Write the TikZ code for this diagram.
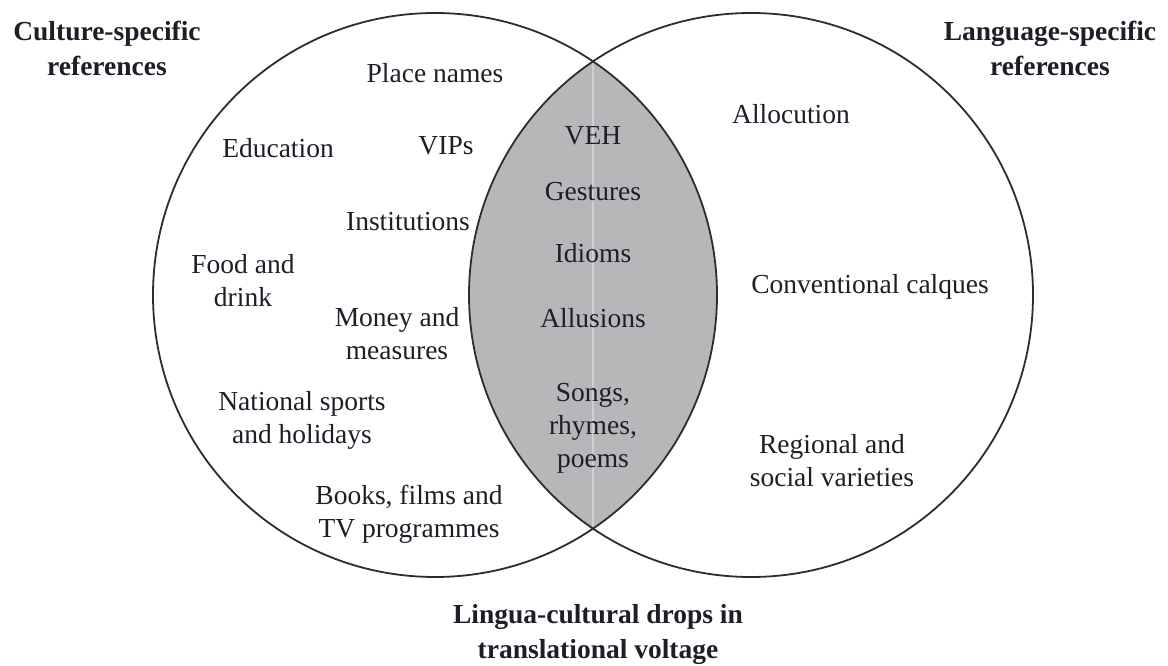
\documentclass[tikz,border=0pt]{standalone}
\usepackage{fontspec}
\setmainfont{Liberation Serif}
\definecolor{lensgray}{RGB}{182,183,185}
\definecolor{seamgray}{RGB}{205,206,208}
\definecolor{ink}{RGB}{30,30,40}
\definecolor{edge}{RGB}{45,45,45}
\begin{document}
\begin{tikzpicture}[x=1pt,y=-1pt,
  lbl/.style={font=\fontsize{27.5}{33}\selectfont, text=ink, align=center, inner sep=0pt},
  ttl/.style={font=\fontsize{27.5}{35}\selectfont\bfseries, text=ink, align=center, inner sep=0pt},
  ring/.style={draw=edge, line width=1.8pt}]
\useasboundingbox (0,0) rectangle (1168,666);
\fill[white] (0,0) rectangle (1168,666);
\coordinate (L) at (435,295);
\coordinate (R) at (751,295);
\begin{scope}
  \clip (L) circle (282pt);
  \fill[lensgray] (R) circle (282pt);
\end{scope}
\coordinate (seamtop) at (593,62);
\coordinate (seambot) at (593,528);
\draw[seamgray, line width=1.2pt] (seamtop) -- (seambot);
\draw[ring] (L) circle (282pt);
\draw[ring] (R) circle (282pt);

\node[ttl] (cs) at (107,48) {Culture-specific\\references};
\node[ttl] (ls) at (1050,48) {Language-specific\\references};
\node[ttl] (lc) at (598,634) {Lingua-cultural drops in\\translational voltage};

\node[lbl] (place) at (435,73) {Place names};
\node[lbl] (edu) at (278,148) {Education};
\node[lbl] (vip) at (446,146) {VIPs};
\node[lbl] (inst) at (408,222) {Institutions};
\node[lbl] (food) at (243,281) {Food and\\drink};
\node[lbl] (money) at (397,334) {Money and\\measures};
\node[lbl] (sport) at (302,420) {National sports\\and holidays};
\node[lbl] (books) at (409,514) {Books, films and\\TV programmes};

\node[lbl] (veh) at (593,136) {VEH};
\node[lbl] (gest) at (593,192) {Gestures};
\node[lbl] (idiom) at (593,253) {Idioms};
\node[lbl] (allu) at (593,318) {Allusions};
\node[lbl] (songs) at (593,428) {Songs,\\rhymes,\\poems};

\node[lbl] (alloc) at (791,114) {Allocution};
\node[lbl] (calq) at (870,287) {Conventional calques};
\node[lbl] (reg) at (832,461) {Regional and\\social varieties};
\end{tikzpicture}
\end{document}
